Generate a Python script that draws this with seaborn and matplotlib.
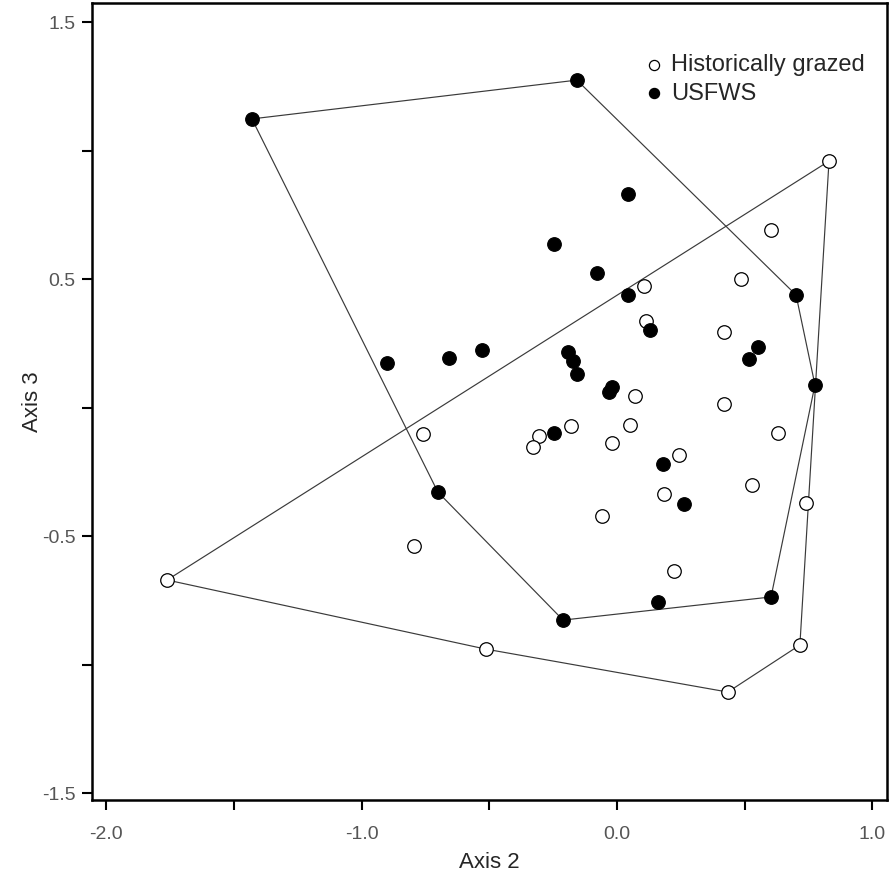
import numpy as np
import pandas as pd
import matplotlib
matplotlib.use("Agg")
import matplotlib.pyplot as plt
import seaborn as sns

# ── Ordination scores ────────────────────────────────────────────────────────
usfws_x = [-1.429, -0.157, 0.043, -0.247, -0.078, 0.043, 0.701, -0.900, -0.658,
           -0.528, -0.192, -0.172, -0.157, -0.020, -0.031, 0.129, 0.552, 0.517,
           0.775, -0.247, 0.180, 0.262, -0.701, 0.160, 0.603, -0.211]
usfws_y = [1.123, 1.274, 0.831, 0.636, 0.523, 0.438, 0.438, 0.173, 0.193,
           0.224, 0.216, 0.181, 0.130, 0.080, 0.060, 0.302, 0.235, 0.189,
           0.088, -0.099, -0.220, -0.375, -0.329, -0.757, -0.737, -0.827]

grazed_x = [0.830, 0.603, 0.485, 0.106, 0.114, 0.419, 0.070, 0.419, -0.180,
            0.051, 0.630, -0.020, 0.243, 0.528, 0.184, -0.059, 0.740, 0.223,
            0.716, 0.434, -0.513, -1.761, -0.795, -0.759, -0.305, -0.329]
grazed_y = [0.959, 0.690, 0.500, 0.473, 0.337, 0.294, 0.045, 0.014, -0.072,
            -0.068, -0.099, -0.138, -0.185, -0.302, -0.337, -0.422, -0.372, -0.636,
            -0.924, -1.107, -0.940, -0.671, -0.539, -0.103, -0.111, -0.154]

group_names = ["Historically grazed", "USFWS"]

df = pd.DataFrame({
    "Axis 2": grazed_x + usfws_x,
    "Axis 3": grazed_y + usfws_y,
    "group": [group_names[0]] * len(grazed_x) + [group_names[1]] * len(usfws_x),
})


def convex_hull(xs, ys):
    """Monotone chain hull, returns closed list of vertices."""
    pts = sorted(set(zip(xs, ys)))

    def cross(o, a, b):
        return (a[0] - o[0]) * (b[1] - o[1]) - (a[1] - o[1]) * (b[0] - o[0])

    lower, upper = [], []
    for p in pts:
        while len(lower) >= 2 and cross(lower[-2], lower[-1], p) <= 0:
            lower.pop()
        lower.append(p)
    for p in reversed(pts):
        while len(upper) >= 2 and cross(upper[-2], upper[-1], p) <= 0:
            upper.pop()
        upper.append(p)
    hull = lower[:-1] + upper[:-1]
    hull.append(hull[0])
    return np.array(hull)


sns.set_style("white")
plt.rcParams["font.family"] = ["Liberation Sans", "DejaVu Sans"]

fig = plt.figure(figsize=(8.9, 8.77), dpi=100)
ax = fig.add_axes([92 / 890, 77 / 877, 795 / 890, 797 / 877])

# hull outlines first so markers sit on top
for name in group_names:
    sub = df[df["group"] == name]
    hull = convex_hull(sub["Axis 2"], sub["Axis 3"])
    ax.plot(hull[:, 0], hull[:, 1], color="#3a3a3a", lw=0.85, zorder=1)

sns.scatterplot(data=df[df["group"] == group_names[0]], x="Axis 2", y="Axis 3",
                s=95, facecolor="white", edgecolor="black", linewidth=0.9,
                ax=ax, zorder=3, label=group_names[0])
sns.scatterplot(data=df[df["group"] == group_names[1]], x="Axis 2", y="Axis 3",
                s=95, color="black", edgecolor="black", linewidth=0.9,
                ax=ax, zorder=3, label=group_names[1])

ax.set_xlim(-2.055, 1.057)
ax.set_ylim(-1.527, 1.574)

ax.set_xticks(np.arange(-2.0, 1.01, 0.5))
ax.set_xticklabels(["-2.0", "", "-1.0", "", "0.0", "", "1.0"])
ax.set_yticks(np.arange(-1.5, 1.51, 0.5))
ax.set_yticklabels(["-1.5", "", "-0.5", "", "0.5", "", "1.5"])
ax.tick_params(direction="out", length=7, width=1.5, labelsize=14,
               labelcolor="#555555", color="black", bottom=True, left=True)
ax.tick_params(axis="x", pad=12)
ax.tick_params(axis="y", pad=5)

for sp in ax.spines.values():
    sp.set_visible(True)
    sp.set_color("black")
    sp.set_linewidth(1.8)

ax.set_xlabel("Axis 2", fontsize=16, labelpad=6)
ax.set_ylabel("Axis 3", fontsize=16, labelpad=-1)

leg = ax.legend(loc="upper right", bbox_to_anchor=(0.972, 0.936), frameon=False,
                fontsize=17, handletextpad=0.05, handlelength=1.3,
                labelspacing=0.28, markerscale=0.75,
                borderaxespad=0.0, borderpad=0.0)

plt.savefig("out.png", dpi=100)
plt.close()
